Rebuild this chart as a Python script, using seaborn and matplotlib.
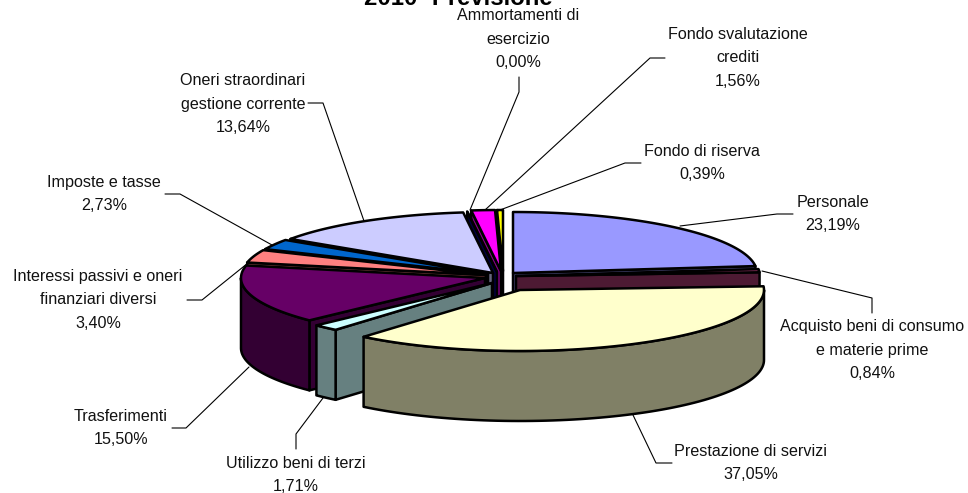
import numpy as np
import seaborn as sns
import matplotlib.pyplot as plt

sns.set_theme(style="white")
plt.rcParams['font.family'] = ['Liberation Sans', 'DejaVu Sans']

# Chart data
categories = ["Personale", "Acquisto beni di consumo\ne materie prime", "Prestazione di servizi",
              "Utilizzo beni di terzi", "Trasferimenti", "Interessi passivi e oneri\nfinanziari diversi",
              "Imposte e tasse", "Oneri straordinari\ngestione corrente", "Ammortamenti di\nesercizio",
              "Fondo svalutazione\ncrediti", "Fondo di riserva"]
shares = [23.19, 0.84, 37.05, 1.71, 15.50, 3.40, 2.73, 13.64, 0.00, 1.56, 0.39]
colors = ["#9999FF", "#993366", "#FFFFCC", "#CCFFFF", "#660066", "#FF8080",
          "#0066CC", "#CCCCFF", "#000080", "#FF00FF", "#FFFF00"]
title = "2010- Previsione"

# Layout, in pixels of the figure
CX, CY = 500, 278
RX, RY = 244, 61
DEPTH = 70
explode = [(13, -5), (16, -2), (20, 12), (-8, 5), (-15, 0), (-14, -3),
           (-12, -4), (-7, -5), (-3, -6), (1, -7), (3, -7)]
label_pos = [(833, 214), (872, 350), (751, 463), (296, 475), (121, 428), (98, 300),
             (104, 194), (243, 104), (518, 39), (738, 58), (702, 163)]
leaders = [[(793, 214), (777, 214), (680, 226)],
           [(872, 313), (872, 298), (762, 271)],
           [(672, 463), (656, 463), (633, 415)],
           [(296, 449), (296, 434), (323, 398)],
           [(172, 428), (186, 428), (249, 367)],
           [(187, 300), (202, 300), (248, 263)],
           [(165, 194), (180, 194), (272, 245)],
           [(308, 103), (323, 103), (364, 221)],
           [(519, 77), (519, 92), (470, 210)],
           [(665, 58), (650, 58), (485, 210)],
           [(641, 163), (625, 163), (500, 210)]]


def rim(ax0, ay0, t1, t2):
    t = np.radians(np.linspace(t1, t2, 80))
    return ax0 + RX * np.sin(t), ay0 - RY * np.cos(t)


def draw_slice(ax, apex, t1, t2, color, z):
    dark = tuple(c / 2 for c in sns.color_palette([color])[0])
    style = dict(edgecolor="black", linewidth=1.8, joinstyle="round", zorder=z)
    x0, y0 = apex

    # cut faces that turn towards the viewer
    if np.sin(np.radians(t2)) > 0.001:
        x, y = rim(x0, y0, t2, t2)
        ax.fill([x0, x[0], x[0], x0], [y0, y[0], y[0] + DEPTH, y0 + DEPTH], facecolor=dark, **style)
    if np.sin(np.radians(t1)) < -0.001:
        x, y = rim(x0, y0, t1, t1)
        ax.fill([x0, x[0], x[0], x0], [y0, y[0], y[0] + DEPTH, y0 + DEPTH], facecolor=dark, **style)

    # outer wall, only the front half of the ellipse shows
    a, b = max(t1, 90), min(t2, 270)
    if b > a:
        x, y = rim(x0, y0, a, b)
        ax.fill(np.r_[x, x[::-1]], np.r_[y, y[::-1] + DEPTH], facecolor=dark, **style)

    # top face
    x, y = rim(x0, y0, t1, t2)
    ax.fill(np.r_[x0, x], np.r_[y0, y], facecolor=color, **style)


fig = plt.figure(figsize=(9.68, 4.93), dpi=100)
ax = fig.add_axes([0, 0, 1, 1])
ax.set_xlim(0, 968)
ax.set_ylim(493, 0)
ax.axis("off")

edges = np.r_[0, np.cumsum(shares)] / sum(shares) * 360
mids = (edges[:-1] + edges[1:]) / 2

# paint from the back of the pie to the front
order = np.argsort(-np.cos(np.radians(mids)))
for z, i in enumerate(order):
    apex = (CX + explode[i][0], CY + explode[i][1])
    draw_slice(ax, apex, edges[i], edges[i + 1], colors[i], 3 + z)

for i, name in enumerate(categories):
    pts = np.array(leaders[i])
    ax.plot(pts[:, 0], pts[:, 1], color="black", lw=0.8, zorder=2)
    pct = f"{shares[i]:.2f}%".replace(".", ",")
    ax.text(label_pos[i][0], label_pos[i][1], f"{name}\n{pct}", ha="center", va="center",
            fontsize=11.6, color="#111111", linespacing=1.68, zorder=20)

ax.text(458, 5, title, ha="center", va="baseline", fontsize=17.2, fontweight="bold", color="black")

plt.savefig("out.png", dpi=100)
